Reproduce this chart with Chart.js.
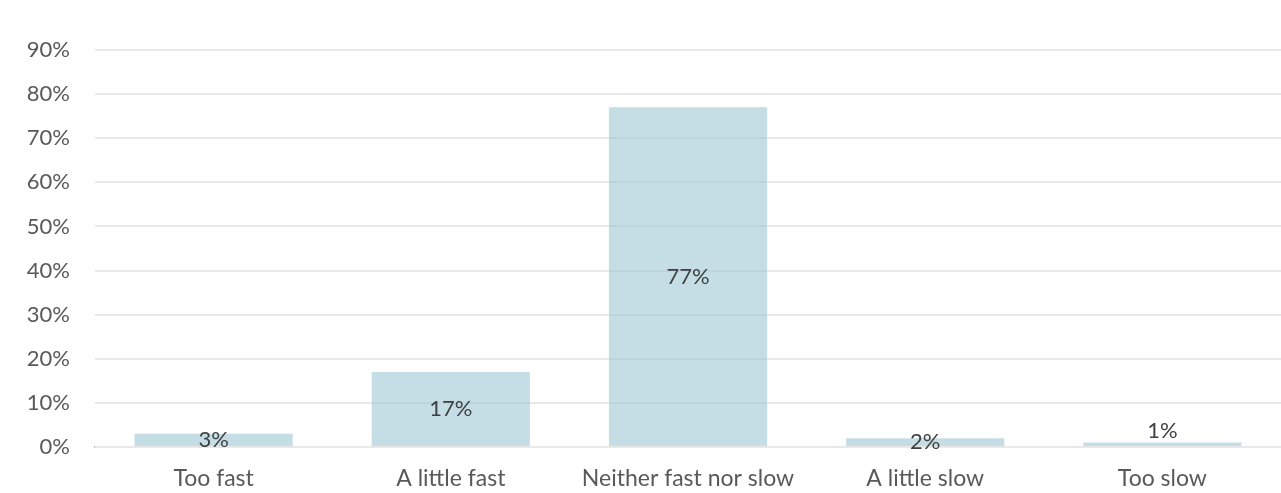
<!DOCTYPE html>
<html>
<head>
<meta charset="utf-8">
<script src="https://cdn.jsdelivr.net/npm/chart.js@4/dist/chart.umd.min.js"></script>
<style>
  html, body { margin: 0; padding: 0; background: #fff; }
  #wrap { width: 1281px; height: 493px; }
</style>
</head>
<body>
<div id="wrap"><canvas id="speedChart"></canvas></div>
<script>
const categories = ['Too fast', 'A little fast', 'Neither fast nor slow', 'A little slow', 'Too slow'];
const shares = [3, 17, 77, 2, 1];
const labelAnchor = ['center', 'center', 'center', 'center', 'end'];
const yTicks = [0, 10, 20, 30, 40, 50, 60, 70, 80, 90];

const FONT = 'Lato, "Open Sans", sans-serif';
const FONT_SIZE = 22;

// writes the percentage in the middle of each bar
const barLabels = {
    id: 'barLabels',
    afterDatasetsDraw(chart) {
        const ctx = chart.ctx;
        const meta = chart.getDatasetMeta(0);
        ctx.save();
        ctx.font = FONT_SIZE + 'px ' + FONT;
        ctx.fillStyle = '#404040';
        ctx.textAlign = 'center';
        ctx.textBaseline = 'middle';
        meta.data.forEach((bar, i) => {
            const p = bar.getProps(['x', 'y', 'base'], true);
            let y = (p.y + p.base) / 2;
            if (labelAnchor[i] === 'end') y = p.y - 12;
            ctx.fillText(shares[i] + '%', p.x, y);
        });
        ctx.restore();
    }
};

function renderChart() {
    const ctx = document.getElementById('speedChart').getContext('2d');
    new Chart(ctx, {
        type: 'bar',
        data: {
            labels: categories,
            datasets: [{
                data: shares,
                backgroundColor: 'rgba(166, 203, 215, 0.65)',
                borderWidth: 0,
                categoryPercentage: 1,
                barPercentage: 0.667
            }]
        },
        options: {
            responsive: true,
            maintainAspectRatio: false,
            animation: false,
            layout: { padding: { top: 50, right: 0, left: 0, bottom: 0 } },
            plugins: {
                legend: { display: false },
                tooltip: { enabled: false }
            },
            scales: {
                x: {
                    grid: { display: false, drawTicks: false },
                    border: { display: true, color: '#bfbfbf', width: 2 },
                    ticks: {
                        color: '#595959',
                        font: { family: FONT, size: 23 },
                        padding: 18,
                        maxRotation: 0
                    },
                    afterFit: s => { s.height = 46; }
                },
                y: {
                    min: 0,
                    max: 90,
                    afterBuildTicks: s => { s.ticks = yTicks.map(v => ({ value: v })); },
                    grid: { color: '#e8e8e8', lineWidth: 2, drawTicks: false, z: 0 },
                    border: { display: false },
                    ticks: {
                        color: '#595959',
                        font: { family: FONT, size: FONT_SIZE },
                        padding: 25,
                        callback: v => v + '%'
                    },
                    afterFit: s => { s.width = 95; }
                }
            }
        },
        plugins: [barLabels]
    });
}

document.addEventListener('DOMContentLoaded', renderChart);
</script>
</body>
</html>
